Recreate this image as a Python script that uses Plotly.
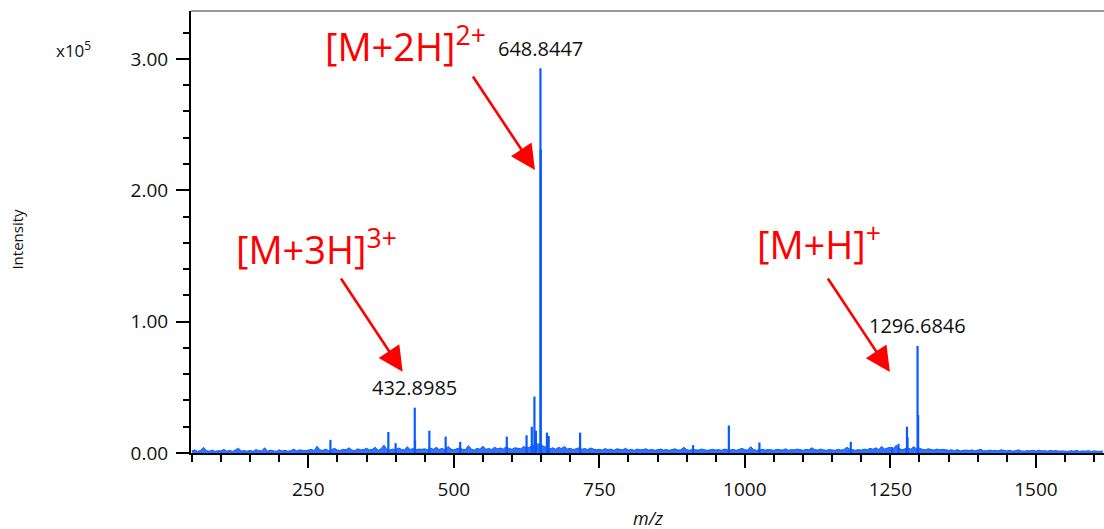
import plotly.graph_objects as go

# ---- data (intensity in units of 1e5 counts) ----
peak_mz = [288.0, 387.5, 400.0, 432.90, 433.40, 458.0, 486.0, 511.0, 591.0, 625.0,
           634.0, 638.5, 641.0, 648.84, 649.35, 660.0, 663.0, 717.0, 911.0, 972.5,
           1025.0, 1182.0, 1253.0, 1264.0, 1278.5, 1279.5, 1296.68, 1297.70]
peak_int = [0.10, 0.16, 0.075, 0.345, 0.10, 0.17, 0.125, 0.085, 0.125, 0.135,
            0.20, 0.43, 0.17, 2.93, 2.31, 0.155, 0.13, 0.155, 0.06, 0.21,
            0.08, 0.085, 0.045, 0.07, 0.20, 0.12, 0.815, 0.29]

noise_start = 50
noise_step = 5
noise_counts = [  # baseline noise, in units of 200 counts
    8, 12, 6, 10, 22, 9, 7, 11, 6, 9, 8, 14, 7, 10, 6, 12, 18, 8, 9, 7,
    10, 6, 13, 9, 8, 20, 7, 11, 9, 6, 12, 8, 10, 7, 9, 15, 8, 12, 10, 9,
    11, 14, 9, 26, 12, 10, 15, 9, 13, 18, 11, 10, 14, 12, 20, 11, 9, 16, 12, 13,
    18, 12, 14, 22, 10, 16, 30, 13, 11, 15, 12, 19, 14, 11, 24, 13, 17, 12, 15, 14,
    16, 12, 19, 14, 22, 13, 18, 11, 25, 15, 12, 17, 20, 14, 13, 28, 15, 11, 18, 14,
    26, 14, 17, 13, 22, 16, 19, 15, 24, 17, 14, 20, 18, 16, 25, 19, 22, 28, 30, 35,
    30, 24, 18, 15, 20, 14, 22, 17, 25, 15, 18, 13, 16, 20, 14, 17, 13, 19, 15, 12,
    14, 11, 17, 12, 15, 10, 16, 13, 12, 18, 11, 14, 10, 15, 12, 13, 16, 11, 14, 10,
    12, 15, 11, 13, 10, 14, 16, 11, 12, 22, 13, 10, 14, 12, 11, 15, 13, 10, 12, 14,
    11, 13, 10, 15, 12, 11, 14, 10, 13, 18, 12, 11, 24, 13, 10, 12, 14, 11, 13, 12,
    10, 14, 12, 11, 16, 10, 13, 12, 15, 11, 10, 14, 12, 20, 13, 11, 15, 12, 10, 13,
    12, 10, 14, 11, 13, 22, 15, 12, 10, 13, 11, 15, 12, 18, 14, 20, 13, 25, 15, 19,
    22, 14, 30, 18, 12, 16, 20, 14, 24, 16, 18, 14, 12, 16, 13, 11, 15, 12, 14, 11,
    10, 12, 9, 13, 8, 10, 11, 9, 12, 8, 10, 14, 9, 8, 11, 9, 10, 8, 12, 9,
    8, 10, 7, 9, 12, 8, 7, 9, 8, 10, 7, 11, 8, 9, 7, 10, 8, 9, 7, 8,
    8, 6, 9, 7, 10, 6, 8, 7, 9, 6, 8, 7, 6, 8,
]
noise_unit = 200.0 / 1e5   # converts listed noise to units of 1e5 counts

labels_mz = [432.8985, 648.8447, 1296.6846]
labels_y = [0.495, 3.08, 0.967]

ion_text = ["[M+3H]<sup>3+</sup>", "[M+2H]<sup>2+</sup>", "[M+H]<sup>+</sup>"]
ion_text_x = [122.0, 276.0, 1018.0]
ion_text_y = [1.561, 3.107, 1.599]
arrow_tail = [(304.4, 1.340), (531.1, 2.878), (1140.9, 1.340)]
arrow_tip = [(412.1, 0.619), (639.4, 2.155), (1249.1, 0.617)]

BLUE = "#0A5AFF"
RED = "#FF0000"
FONT = "Open Sans"

# ---- build traces ----
noise_x = [noise_start + i * noise_step for i in range(len(noise_counts))]
noise_y = [v * noise_unit for v in noise_counts]

stick_x, stick_y = [], []
for m, h in zip(peak_mz, peak_int):
    stick_x += [m, m, None]
    stick_y += [0, h, None]

fig = go.Figure()
fig.add_trace(go.Scatter(x=noise_x, y=noise_y, mode="lines", fill="tozeroy",
                         line=dict(color=BLUE, width=1), fillcolor="rgba(10,90,255,0.85)",
                         hoverinfo="skip", showlegend=False))
fig.add_trace(go.Scatter(x=stick_x, y=stick_y, mode="lines",
                         line=dict(color=BLUE, width=2.2),
                         showlegend=False))

annotations = []
for mz, yy in zip(labels_mz, labels_y):
    annotations.append(dict(x=mz, y=yy, xref="x", yref="y", text=f"{mz:.4f}",
                            showarrow=False, font=dict(family=FONT, size=20, color="#111111")))
for t, tx, ty in zip(ion_text, ion_text_x, ion_text_y):
    annotations.append(dict(x=tx, y=ty, xref="x", yref="y", text=t, xanchor="left",
                            yanchor="middle", showarrow=False,
                            font=dict(family=FONT, size=38, color=RED)))
for (ax, ay), (hx, hy) in zip(arrow_tail, arrow_tip):
    annotations.append(dict(x=hx, y=hy, ax=ax, ay=ay, xref="x", yref="y",
                            axref="x", ayref="y", text="", showarrow=True,
                            arrowhead=2, arrowsize=1.9, arrowwidth=2.6,
                            arrowcolor=RED, standoff=0))
annotations.append(dict(x=-0.150, y=0.946, xref="paper", yref="paper", xanchor="left",
                        text="x10<sup>5</sup>", showarrow=False,
                        font=dict(family=FONT, size=17, color="#111111")))
annotations.append(dict(x=-0.190, y=0.484, xref="paper", yref="paper",
                        xanchor="center", yanchor="middle",
                        text="Intensity", textangle=-90, showarrow=False,
                        font=dict(family=FONT, size=15, color="#111111")))
annotations.append(dict(x=0.5, y=-0.147, xref="paper", yref="paper",
                        text="<i>m/z</i>", showarrow=False, yanchor="middle",
                        font=dict(family=FONT, size=18, color="#111111")))

fig.update_layout(
    width=1104, height=529,
    margin=dict(l=191, r=0, t=11, b=76),
    paper_bgcolor="white", plot_bgcolor="white",
    font=dict(family=FONT, size=19, color="#111111"),
    annotations=annotations,
    shapes=[dict(type="line", xref="paper", yref="paper", x0=0, x1=1, y0=1, y1=1,
                 line=dict(color="#9a9a9a", width=2))],
    xaxis=dict(range=[48.5, 1617], tickmode="array", tickvals=[250, 500, 750, 1000, 1250, 1500],
               ticks="outside", ticklen=13, tickwidth=2, tickcolor="black",
               showline=True, linecolor="black", linewidth=2, showgrid=False, zeroline=False,
               ticklabelstandoff=5,
               minor=dict(dtick=50, tick0=0, ticks="outside", ticklen=7, tickwidth=2,
                          tickcolor="black", showgrid=False)),
    yaxis=dict(range=[0, 3.365], tickmode="array", tickvals=[0, 1, 2, 3],
               tickformat=".2f", ticks="outside", ticklen=13, tickwidth=2, tickcolor="black",
               showline=True, linecolor="black", linewidth=2, showgrid=False, zeroline=False,
               ticklabelstandoff=4,
               minor=dict(dtick=0.2, tick0=0, ticks="outside", ticklen=6, tickwidth=2,
                          tickcolor="black", showgrid=False)),
)

# remove the page's default body margin so the figure fills the 1104x529 window exactly
fig.write_html("out.html", config={"displayModeBar": False},
               post_script="document.body.style.margin='0';document.body.style.overflow='hidden';")
